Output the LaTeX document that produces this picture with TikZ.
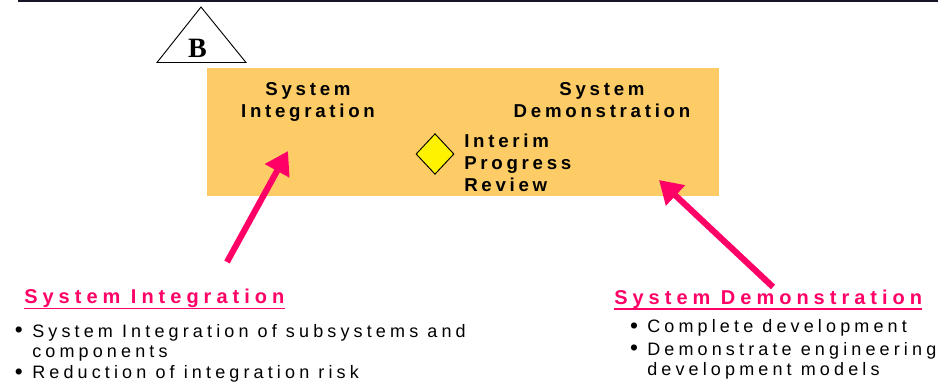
\documentclass[tikz,border=0pt]{standalone}
\usepackage{fontspec}
\setmainfont{Liberation Sans}
\newfontfamily\stagefont{Liberation Serif}
\newfontfamily\boxfont[LetterSpace=20]{Liberation Sans}
\newfontfamily\headfont[LetterSpace=25]{Liberation Sans}
\newfontfamily\itemfont[LetterSpace=23]{Liberation Sans}
\usetikzlibrary{shapes.geometric, arrows.meta}

\definecolor{phaseorange}{RGB}{253,204,102}
\definecolor{pointpink}{RGB}{255,0,102}
\definecolor{ruleblue}{RGB}{22,22,40}

\tikzset{
  boxlabel/.style={font={\boxfont\fontsize{14}{16.5}\selectfont\bfseries}, inner sep=0pt},
  headlabel/.style={font={\headfont\fontsize{15}{18}\selectfont\bfseries}, text=pointpink, anchor=base west, inner sep=0pt},
  item/.style={font={\itemfont\fontsize{13.5}{15}\selectfont}, align=left, anchor=base west, inner sep=0pt},
  pointer/.style={pointpink, line width=4.6pt, -{Triangle[length=17pt, width=20pt]}},
}
\newcommand{\bul}{\llap{\raisebox{-0.6pt}{\fontsize{17}{17}\selectfont\textbullet}\hspace{7pt}}}

\begin{document}
\begin{tikzpicture}[x=0.75pt, y=-0.75pt]
\useasboundingbox (0,0) rectangle (938,383);

% Top rule
\draw[ruleblue, line width=1.1pt] (18,0.8) -- (938,0.8);

% Milestone triangle
\draw[line width=0.7pt] (157,62.5) -- (201,7) -- (246,62.5) -- cycle;
\node[font={\stagefont\fontsize{21}{21}\selectfont\bfseries}, anchor=base, inner sep=0pt] (stage) at (197.5,57) {B};

% Phase box
\node[fill=phaseorange, minimum width=384pt, minimum height=96pt, inner sep=0pt] (phase) at (463,132) {};

% (base of a multi-line node = baseline of its last line)
\node[boxlabel, align=center, anchor=base] (integ) at (308,117) {System\\Integration};
\node[boxlabel, align=center, anchor=base] (demo) at (602,117) {System\\Demonstration};

% Interim progress review
\node[diamond, draw, line width=0.7pt, fill=yellow, aspect=1, minimum width=28.5pt, minimum height=30.5pt, inner sep=0pt] (ipr) at (435,154) {};
\node[boxlabel, align=left, anchor=base west] (iprtext) at (464,191) {Interim\\Progress\\Review};

% Pointers into the box
\coordinate (intTail) at (227,262);
\coordinate (intTip) at (288,151);
\coordinate (demTail) at (773,287);
\coordinate (demTip) at (659,180);
\draw[pointer] (intTail) -- (intTip);
\draw[pointer] (demTail) -- (demTip);

% Headings
\node[headlabel] (hInt) at (24,303) {System Integration};
\node[headlabel] (hDem) at (614,304) {System Demonstration};
\foreach \h in {hInt, hDem} {
    \draw[pointpink, line width=1.3pt] ([yshift=-0.7pt]\h.south west) -- ([yshift=-0.7pt]\h.south east);
}

% Bullet lists
\node[item] (intA) at (32,357) {\bul System Integration of subsystems and\\components};
\node[item] (intB) at (32,378.5) {\bul Reduction of integration risk};
\node[item] (demA) at (647,332.7) {\bul Complete development};
\node[item] (demB) at (647,375) {\bul Demonstrate engineering\\development models};

\end{tikzpicture}
\end{document}
